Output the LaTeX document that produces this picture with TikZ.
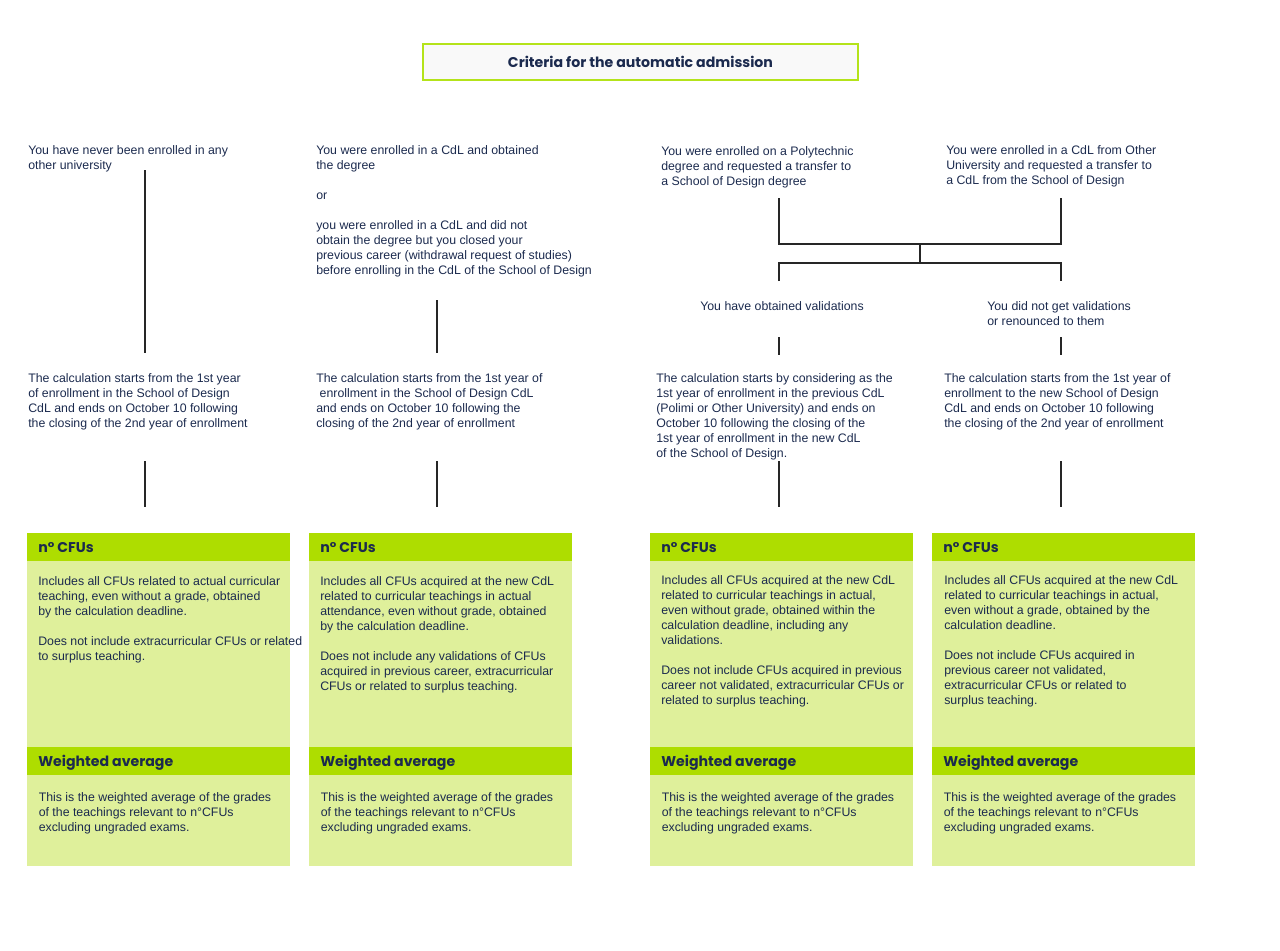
\documentclass[tikz,border=0pt]{standalone}
\usepackage{fontspec}
\setmainfont{Liberation Sans}
\newfontfamily\headfont{Poppins}

\definecolor{navy}{HTML}{1B2A4E}
\definecolor{limehead}{HTML}{AEDD00}
\definecolor{limebody}{HTML}{DFF09B}
\definecolor{titleline}{HTML}{B4E31A}
\definecolor{titlefill}{HTML}{F9F9F9}

\tikzset{
  txt/.style={anchor=north west, inner sep=0pt, align=left, text=navy,
    font=\fontsize{9.25}{11.25}\selectfont},
  head/.style={anchor=west, inner sep=0pt, text=navy,
    font=\headfont\bfseries\fontsize{10.6}{12}\selectfont},
  link/.style={draw=black!85, line width=0.9pt},
}

\begin{document}
\begin{tikzpicture}[x=0.75pt,y=-0.75pt]
\useasboundingbox (0,0) rectangle (1280,950);

% title
\node[draw=titleline, fill=titlefill, line width=1.5pt, minimum width=326pt,
  minimum height=27pt, text=navy, font=\headfont\bfseries\fontsize{10.6}{12}\selectfont]
  (title) at (640.5,62) {Criteria for the automatic admission};

% situations
\node[txt] (top1) at (28,145) {You have never been enrolled in any\\other university};
\node[txt] (top2) at (316,145) {You were enrolled in a CdL and obtained\\the degree\\[11.25pt]or\\[11.25pt]you were enrolled in a CdL and did not\\obtain the degree but you closed your\\previous career (withdrawal request of studies)\\before enrolling in the CdL of the School of Design};
\node[txt] (top3) at (661,146) {You were enrolled on a Polytechnic\\degree and requested a transfer to\\a School of Design degree};
\node[txt] (top4) at (946,145) {You were enrolled in a CdL from Other\\University and requested a transfer to\\a CdL from the School of Design};

\node[txt] (val3) at (700,301) {You have obtained validations};
\node[txt] (val4) at (987,301) {You did not get validations\\or renounced to them};

% calculation period
\node[txt] (calc1) at (28,373) {The calculation starts from the 1st year\\of enrollment in the School of Design\\CdL and ends on October 10 following\\the closing of the 2nd year of enrollment};
\node[txt] (calc2) at (316,373) {The calculation starts from the 1st year of\\\ enrollment in the School of Design CdL\\and ends on October 10 following the\\closing of the 2nd year of enrollment};
\node[txt] (calc3) at (656,373) {The calculation starts by considering as the\\1st year of enrollment in the previous CdL\\(Polimi or Other University) and ends on\\October 10 following the closing of the\\1st year of enrollment in the new CdL\\of the School of Design.};
\node[txt] (calc4) at (944,373) {The calculation starts from the 1st year of\\enrollment to the new School of Design\\CdL and ends on October 10 following\\the closing of the 2nd year of enrollment};

% connectors
\coordinate (l1a) at (145,170);  \coordinate (l1b) at (145,353);
\coordinate (l1c) at (145,461);  \coordinate (l1d) at (145,507);
\coordinate (l2a) at (437,300);  \coordinate (l2b) at (437,353);
\coordinate (l2c) at (437,461);  \coordinate (l2d) at (437,507);
\coordinate (l3a) at (779,198);  \coordinate (l4a) at (1061,198);
\coordinate (l3b) at (779,244);  \coordinate (l4b) at (1061,244);
\coordinate (mida) at (920,244); \coordinate (midb) at (920,263);
\coordinate (l3c) at (779,263);  \coordinate (l4c) at (1061,263);
\coordinate (l3d) at (779,281);  \coordinate (l4d) at (1061,281);
\coordinate (l3e) at (779,337);  \coordinate (l4e) at (1061,337);
\coordinate (l3f) at (779,355);  \coordinate (l4f) at (1061,355);
\coordinate (l3g) at (779,461);  \coordinate (l4g) at (1061,461);
\coordinate (l3h) at (779,507);  \coordinate (l4h) at (1061,507);

\draw[link] (l1a) -- (l1b);
\draw[link] (l1c) -- (l1d);
\draw[link] (l2a) -- (l2b);
\draw[link] (l2c) -- (l2d);
\draw[link] (l3a) -- (l3b) -- (l4b) -- (l4a);
\draw[link] (mida) -- (midb);
\draw[link] (l3d) -- (l3c) -- (l4c) -- (l4d);
\draw[link] (l3e) -- (l3f);
\draw[link] (l4e) -- (l4f);
\draw[link] (l3g) -- (l3h);
\draw[link] (l4g) -- (l4h);

% result boxes
\foreach \i/\x in {1/27,2/309,3/650,4/932} {
  \fill[limebody] (\x,533) rectangle ++(263,333);
  \fill[limehead] (\x,533) rectangle ++(263,28);
  \fill[limehead] (\x,747) rectangle ++(263,28);
  \node[head] (cfu\i) at (\x+11,548) {n° CFUs};
  \node[head] (avg\i) at (\x+11,762.5) {Weighted average};
  \node[txt] (avgtxt\i) at (\x+11.5,792) {This is the weighted average of the grades\\of the teachings relevant to n°CFUs\\excluding ungraded exams.};
}

\node[txt] (cfutxt1) at (38,576) {Includes all CFUs related to actual curricular\\teaching, even without a grade, obtained\\by the calculation deadline.\\[11.25pt]Does not include extracurricular CFUs or related\\to surplus teaching.};
\node[txt] (cfutxt2) at (320,576) {Includes all CFUs acquired at the new CdL\\related to curricular teachings in actual\\attendance, even without grade, obtained\\by the calculation deadline.\\[11.25pt]Does not include any validations of CFUs\\acquired in previous career, extracurricular\\CFUs or related to surplus teaching.};
\node[txt] (cfutxt3) at (661,575) {Includes all CFUs acquired at the new CdL\\related to curricular teachings in actual,\\even without grade, obtained within the\\calculation deadline, including any\\validations.\\[11.25pt]Does not include CFUs acquired in previous\\career not validated, extracurricular CFUs or\\related to surplus teaching.};
\node[txt] (cfutxt4) at (944,575) {Includes all CFUs acquired at the new CdL\\related to curricular teachings in actual,\\even without a grade, obtained by the\\calculation deadline.\\[11.25pt]Does not include CFUs acquired in\\previous career not validated,\\extracurricular CFUs or related to\\surplus teaching.};
\end{tikzpicture}
\end{document}
